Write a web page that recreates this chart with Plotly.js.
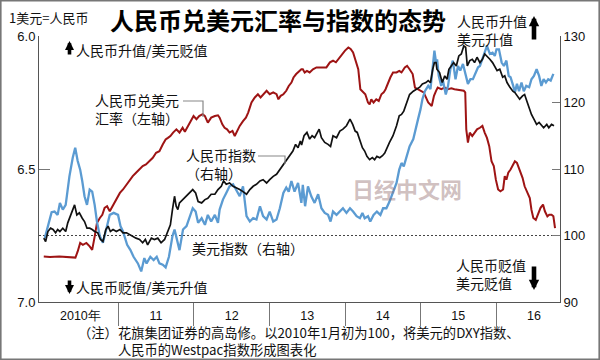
<!DOCTYPE html>
<html>
<head>
<meta charset="utf-8">
<script src="https://cdn.plot.ly/plotly-3.0.1.min.js"></script>
<style>
html,body{margin:0;padding:0;background:#fff;}
#chart{width:600px;height:360px;}
</style>
</head>
<body>
<div id="chart"></div>
<script>
// ---------------- DATA ----------------
// 美元指数 DXY (2010年1月初=100, 右轴)
const dxyDates = ['2010-01-11','2010-01-22','2010-02-13','2010-02-27','2010-03-14','2010-03-25','2010-04-08','2010-04-22','2010-05-10','2010-05-26','2010-06-07','2010-06-19','2010-07-01','2010-07-11','2010-07-22','2010-08-03','2010-08-16','2010-08-28','2010-09-09','2010-09-20','2010-10-04','2010-10-19','2010-11-05','2010-11-21','2010-12-10','2010-12-31','2011-01-12','2011-01-24','2011-02-13','2011-03-01','2011-03-16','2011-04-06','2011-04-22','2011-05-07','2011-05-18','2011-06-05','2011-06-21','2011-07-06','2011-07-19','2011-08-04','2011-08-18','2011-09-03','2011-09-20','2011-09-30','2011-10-24','2011-11-10','2011-11-27','2011-12-12','2011-12-27','2012-01-10','2012-01-22','2012-02-08','2012-02-24','2012-03-09','2012-03-25','2012-04-12','2012-04-27','2012-05-05','2012-05-21','2012-06-06','2012-06-22','2012-07-09','2012-07-25','2012-08-10','2012-08-26','2012-09-12','2012-09-28','2012-10-14','2012-10-30','2012-11-16','2012-12-01','2012-12-18','2013-01-02','2013-01-19','2013-02-04','2013-02-20','2013-03-09','2013-03-23','2013-04-04','2013-04-17','2013-05-02','2013-05-19','2013-06-04','2013-06-11','2013-06-22','2013-07-06','2013-07-22','2013-08-07','2013-08-24','2013-09-09','2013-09-25','2013-10-11','2013-10-23','2013-11-04','2013-11-21','2013-12-07','2013-12-22','2014-01-08','2014-01-25','2014-02-09','2014-02-26','2014-03-14','2014-03-26','2014-04-06','2014-04-22','2014-05-03','2014-05-19','2014-06-04','2014-06-21','2014-07-04','2014-07-20','2014-08-04','2014-08-21','2014-09-07','2014-09-20','2014-10-01','2014-10-12','2014-10-25','2014-11-09','2014-11-27','2014-12-10','2014-12-20','2015-01-01','2015-01-10','2015-01-22','2015-02-07','2015-02-18','2015-03-01','2015-03-09','2015-03-17','2015-03-22','2015-03-30','2015-04-11','2015-04-18','2015-05-03','2015-05-14','2015-05-25','2015-06-06','2015-06-19','2015-07-01','2015-07-12','2015-07-25','2015-08-07','2015-08-18','2015-08-30','2015-09-11','2015-09-25','2015-10-06','2015-10-15','2015-10-27','2015-11-07','2015-11-18','2015-12-02','2015-12-15','2015-12-26','2016-01-03','2016-01-15','2016-01-28','2016-02-08','2016-02-20','2016-03-02','2016-03-11','2016-03-24','2016-04-01','2016-04-11','2016-04-21','2016-05-03','2016-05-14','2016-05-26','2016-06-09','2016-06-20','2016-07-02','2016-07-15','2016-07-27','2016-08-07','2016-08-18','2016-08-29','2016-09-09','2016-09-21','2016-10-04'];
const dxyValues = [99.6,100.9,103.5,103.6,103.1,104.9,103.9,104.6,108.9,111.7,113.2,111.2,109.9,108.2,105.9,104.6,106.9,106.6,104.6,102.1,99.9,98.9,100.9,103.1,103.4,103.1,101.4,100.6,98.6,97.8,96.8,95.8,94.6,96.6,95.8,96.8,96.3,96.8,95.8,95.6,95.2,96.8,99.9,100.9,97.8,100.9,101.4,102.9,104.1,103.6,101.9,102.6,101.6,103.1,102.1,103.1,101.9,103.9,105.4,106.4,107.4,107.7,106.9,105.9,107.4,102.9,102.1,102.6,102.4,104.4,102.9,102.4,103.6,102.1,102.4,104.1,106.4,107.2,106.6,108.2,106.6,107.9,104.9,107.6,104.4,107.4,105.9,104.9,106.2,104.1,103.4,103.1,102.1,103.6,103.1,103.6,104.1,103.4,104.1,103.6,102.9,102.6,103.4,102.6,102.9,102.1,103.1,103.6,103.1,104.1,104.1,105.1,106.4,107.9,109.9,110.9,110.4,111.9,113.4,114.5,116.5,117.5,119.0,120.5,121.7,122.5,122.0,125.0,127.8,126.0,126.5,124.0,122.5,123.5,121.2,122.5,125.0,126.3,123.5,125.5,124.8,125.8,124.0,122.8,123.5,123.5,124.5,125.3,125.5,126.5,127.5,128.5,127.3,127.5,127.0,128.0,128.0,126.0,125.5,126.3,124.0,123.8,122.5,121.5,122.8,121.7,123.0,121.7,122.5,122.3,123.5,124.0,125.0,124.0,122.5,123.5,123.0,123.5,123.3,124.3];

// 人民币指数 Westpac (右轴)
const rmbIdxDates = ['2010-01-06','2010-01-15','2010-01-26','2010-02-08','2010-02-20','2010-03-04','2010-03-14','2010-03-25','2010-04-08','2010-04-22','2010-05-02','2010-05-14','2010-05-26','2010-06-04','2010-06-15','2010-06-27','2010-07-11','2010-07-22','2010-08-03','2010-08-16','2010-08-28','2010-09-09','2010-09-24','2010-10-07','2010-10-19','2010-11-02','2010-11-13','2010-11-24','2010-12-07','2010-12-23','2011-01-09','2011-01-24','2011-02-10','2011-02-26','2011-03-12','2011-03-28','2011-04-14','2011-04-29','2011-05-12','2011-05-23','2011-06-10','2011-06-25','2011-07-11','2011-07-27','2011-08-13','2011-08-29','2011-09-10','2011-09-20','2011-09-30','2011-10-08','2011-10-16','2011-10-24','2011-11-10','2011-11-27','2011-12-12','2011-12-27','2012-01-10','2012-01-22','2012-02-08','2012-02-24','2012-03-09','2012-03-25','2012-04-12','2012-04-27','2012-05-13','2012-05-24','2012-06-06','2012-06-22','2012-07-09','2012-07-25','2012-08-10','2012-08-26','2012-09-12','2012-09-28','2012-10-14','2012-10-30','2012-11-16','2012-12-01','2012-12-18','2013-01-02','2013-01-19','2013-02-04','2013-02-20','2013-03-09','2013-03-23','2013-04-08','2013-04-24','2013-05-07','2013-05-19','2013-05-30','2013-06-05','2013-06-17','2013-07-01','2013-07-14','2013-07-26','2013-08-07','2013-08-19','2013-08-29','2013-09-09','2013-09-25','2013-10-11','2013-10-23','2013-11-04','2013-11-21','2013-12-07','2013-12-22','2014-01-08','2014-01-25','2014-02-07','2014-02-19','2014-03-01','2014-03-14','2014-03-26','2014-04-06','2014-04-17','2014-04-30','2014-05-13','2014-05-24','2014-06-04','2014-06-18','2014-07-01','2014-07-12','2014-07-22','2014-08-04','2014-08-21','2014-09-07','2014-09-20','2014-10-01','2014-10-12','2014-10-25','2014-11-09','2014-11-27','2014-12-13','2014-12-28','2015-01-10','2015-01-27','2015-02-07','2015-02-18','2015-03-01','2015-03-09','2015-03-17','2015-03-21','2015-04-03','2015-04-16','2015-04-28','2015-05-09','2015-05-18','2015-05-30','2015-06-10','2015-06-23','2015-07-05','2015-07-17','2015-07-29','2015-08-07','2015-08-15','2015-08-27','2015-09-08','2015-09-19','2015-10-01','2015-10-15','2015-10-27','2015-11-07','2015-11-18','2015-12-02','2015-12-15','2015-12-26','2016-01-06','2016-01-19','2016-02-02','2016-02-12','2016-02-23','2016-03-08','2016-03-22','2016-04-01','2016-04-11','2016-04-24','2016-05-08','2016-05-18','2016-05-29','2016-06-09','2016-06-20','2016-07-02','2016-07-15','2016-07-27','2016-08-07','2016-08-18','2016-09-02','2016-09-12','2016-09-25','2016-10-07'];
const rmbIdxValues = [99.6,99.1,100.6,101.1,100.9,100.4,100.9,100.6,101.1,100.6,101.9,102.9,103.9,104.6,103.1,103.4,102.6,102.1,101.1,101.1,100.9,100.6,100.4,99.4,99.1,100.9,101.4,100.6,100.9,100.6,100.9,100.4,100.4,100.1,99.9,99.6,99.4,98.9,99.4,98.6,99.6,99.4,99.6,98.9,99.4,100.6,101.6,103.9,105.9,104.4,103.9,104.9,105.4,105.9,106.4,106.9,106.4,105.1,104.9,105.4,105.6,106.2,106.2,106.9,107.4,108.2,107.7,107.9,107.4,107.2,106.9,106.6,106.2,106.9,107.4,107.7,108.2,108.4,107.9,108.4,108.9,109.2,109.9,110.7,111.2,111.9,112.7,113.7,113.2,114.2,113.6,115.0,115.5,114.5,115.0,114.7,115.5,116.0,114.7,114.0,113.7,113.4,115.0,114.7,115.7,116.0,116.5,117.5,116.7,115.7,115.5,114.2,113.2,112.7,111.9,111.4,111.7,111.4,111.9,111.7,112.0,112.4,113.2,114.0,115.0,116.5,118.0,118.2,118.7,120.0,121.2,121.7,122.0,122.3,122.8,123.0,123.3,123.0,125.0,126.0,126.0,125.0,124.5,123.0,124.0,123.5,125.0,125.5,126.0,125.5,127.0,127.3,128.5,128.3,125.5,126.3,126.5,126.0,126.8,126.0,126.5,127.3,127.0,126.5,126.0,125.3,124.8,125.0,123.8,124.0,123.0,122.3,121.7,121.5,121.0,120.5,121.0,121.2,120.2,119.2,118.2,117.5,116.7,117.0,116.5,116.2,116.7,116.2,116.7,116.5];

// 人民币兑美元汇率 (1美元=人民币, 左轴)
const cnyDates = ['2010-01-06','2010-02-05','2010-03-22','2010-05-10','2010-06-08','2010-06-19','2010-07-01','2010-07-14','2010-07-31','2010-08-16','2010-08-28','2010-09-09','2010-09-20','2010-10-04','2010-10-16','2010-10-27','2010-11-08','2010-11-21','2010-12-04','2010-12-15','2010-12-26','2011-01-09','2011-01-24','2011-02-10','2011-02-26','2011-03-12','2011-03-28','2011-04-14','2011-04-29','2011-05-15','2011-05-31','2011-06-17','2011-07-03','2011-07-19','2011-08-04','2011-08-18','2011-08-29','2011-09-10','2011-09-23','2011-10-09','2011-10-24','2011-11-08','2011-11-19','2011-12-04','2011-12-20','2011-12-31','2012-01-14','2012-01-27','2012-02-13','2012-02-24','2012-03-09','2012-03-25','2012-04-12','2012-04-27','2012-05-05','2012-05-18','2012-05-29','2012-06-10','2012-06-22','2012-07-06','2012-07-17','2012-07-28','2012-08-10','2012-08-26','2012-09-09','2012-09-20','2012-10-06','2012-10-22','2012-11-06','2012-11-19','2012-12-01','2012-12-18','2013-01-02','2013-01-19','2013-02-04','2013-02-13','2013-02-24','2013-03-09','2013-03-23','2013-04-04','2013-04-17','2013-04-27','2013-05-10','2013-05-24','2013-06-04','2013-06-11','2013-06-20','2013-07-01','2013-07-14','2013-07-30','2013-08-16','2013-09-01','2013-09-17','2013-10-03','2013-10-20','2013-11-04','2013-11-18','2013-11-29','2013-12-15','2014-01-01','2014-01-17','2014-01-28','2014-02-09','2014-02-23','2014-03-06','2014-03-16','2014-03-29','2014-04-09','2014-04-22','2014-04-30','2014-05-08','2014-05-19','2014-06-01','2014-06-13','2014-06-26','2014-07-07','2014-07-16','2014-07-27','2014-08-08','2014-08-21','2014-09-07','2014-09-20','2014-10-01','2014-10-17','2014-10-28','2014-11-09','2014-11-24','2014-12-05','2014-12-20','2015-01-05','2015-01-16','2015-01-27','2015-02-07','2015-02-24','2015-03-07','2015-03-17','2015-03-25','2015-04-11','2015-04-28','2015-05-14','2015-05-30','2015-06-14','2015-07-01','2015-07-17','2015-07-29','2015-08-05','2015-08-10','2015-08-18','2015-08-27','2015-09-08','2015-09-19','2015-10-01','2015-10-15','2015-10-27','2015-11-07','2015-11-18','2015-11-29','2015-12-10','2015-12-21','2015-12-31','2016-01-11','2016-01-22','2016-02-04','2016-02-12','2016-02-20','2016-02-29','2016-03-11','2016-03-22','2016-04-01','2016-04-11','2016-04-24','2016-05-08','2016-05-18','2016-05-29','2016-06-12','2016-06-20','2016-06-29','2016-07-11','2016-07-22','2016-08-03','2016-08-15','2016-08-24','2016-09-05','2016-09-14','2016-09-25','2016-10-04','2016-10-12'];
const cnyRates = [6.829,6.831,6.829,6.833,6.833,6.810,6.778,6.785,6.778,6.791,6.804,6.754,6.703,6.684,6.672,6.646,6.640,6.659,6.640,6.628,6.609,6.590,6.577,6.558,6.540,6.527,6.514,6.502,6.489,6.483,6.471,6.458,6.439,6.433,6.408,6.389,6.383,6.376,6.363,6.351,6.363,6.345,6.360,6.338,6.320,6.301,6.313,6.301,6.294,6.301,6.326,6.307,6.301,6.298,6.307,6.332,6.345,6.351,6.363,6.357,6.376,6.357,6.338,6.320,6.307,6.288,6.250,6.231,6.219,6.231,6.219,6.206,6.219,6.212,6.219,6.238,6.225,6.219,6.206,6.188,6.175,6.156,6.143,6.131,6.125,6.125,6.137,6.131,6.137,6.125,6.118,6.118,6.118,6.118,6.099,6.093,6.099,6.087,6.074,6.055,6.043,6.049,6.062,6.099,6.125,6.200,6.212,6.219,6.250,6.257,6.238,6.250,6.238,6.244,6.219,6.212,6.200,6.175,6.156,6.137,6.137,6.131,6.137,6.118,6.112,6.125,6.143,6.194,6.200,6.206,6.212,6.231,6.250,6.263,6.225,6.206,6.194,6.200,6.194,6.200,6.197,6.200,6.203,6.206,6.206,6.212,6.351,6.401,6.363,6.376,6.363,6.351,6.345,6.338,6.363,6.383,6.414,6.471,6.489,6.540,6.577,6.584,6.577,6.527,6.540,6.514,6.502,6.483,6.471,6.477,6.502,6.533,6.565,6.584,6.609,6.653,6.684,6.691,6.672,6.646,6.634,6.659,6.678,6.672,6.672,6.678,6.722];

// axis ticks / labels
const leftTicks = [6.0, 6.5, 7.0];
const leftTickText = ['6.0', '6.5', '7.0'];
const rightTicks = [90, 100, 110, 120, 130];
const yearLabelPos = ['2010-07-02','2011-07-02','2012-07-02','2013-07-02','2014-07-02','2015-07-02','2016-07-02'];
const yearLabels = ['2010年','11','12','13','14','15','16'];
const yearStarts = ['2011-01-01','2012-01-01','2013-01-01','2014-01-01','2015-01-01','2016-01-01'];
const baseLevel = 100;

// ---------------- LAYOUT HELPERS ----------------
const M = {l: 39, r: 40, t: 36, b: 58};
const W = 600 - M.l - M.r, H = 360 - M.t - M.b;
const X = px => (px - M.l) / W;
const Y = py => (M.t + H - py) / H;
const CJK = '"Noto Sans CJK SC", "Noto Sans", sans-serif';
const NUM = '"Liberation Sans", Arial, sans-serif';

function txt(text, px, py, size, opts) {
  return Object.assign({
    text: text, x: X(px), y: Y(py), xref: 'paper', yref: 'paper',
    xanchor: 'left', yanchor: 'middle', align: 'left', showarrow: false, borderpad: 0,
    font: {family: CJK, size: size, color: '#111'}
  }, opts || {});
}
function arrow(px, py, ay, w, s) {
  return {text: '', x: X(px), y: Y(py), xref: 'paper', yref: 'paper',
    showarrow: true, ax: 0, ay: ay, arrowhead: 2, arrowsize: s, arrowwidth: w,
    arrowcolor: '#000'};
}
function path(pts) {
  return 'M' + pts.map(p => X(p[0]) + ',' + Y(p[1])).join(' L');
}

const traces = [
  {x: dxyDates, y: dxyValues, yaxis: 'y2', type: 'scatter', mode: 'lines',
   line: {color: '#5b9bd2', width: 2.3}, hoverinfo: 'skip'},
  {x: cnyDates, y: cnyRates, yaxis: 'y', type: 'scatter', mode: 'lines',
   line: {color: '#9e1414', width: 2}, hoverinfo: 'skip'},
  {x: rmbIdxDates, y: rmbIdxValues, yaxis: 'y2', type: 'scatter', mode: 'lines',
   line: {color: '#111', width: 1.7}, hoverinfo: 'skip'}
];

const layout = {
  width: 600, height: 360,
  margin: M,
  paper_bgcolor: '#fff', plot_bgcolor: '#fff',
  showlegend: false,
  font: {family: CJK, color: '#111'},
  xaxis: {
    type: 'date', range: ['2009-12-14', '2016-11-05'],
    tickmode: 'array', tickvals: yearLabelPos, ticktext: yearLabels,
    ticks: '', showgrid: false, zeroline: false, ticklabelstandoff: 2,
    showline: true, linecolor: '#555', linewidth: 1,
    tickfont: {family: NUM, size: 12.5, color: '#111'},
    minor: {tickmode: 'array', tickvals: yearStarts, ticks: 'outside',
            ticklen: 23, tickcolor: '#777', tickwidth: 1, showgrid: false}
  },
  yaxis: {
    range: [7.0, 6.0], tickmode: 'array', tickvals: leftTicks, ticktext: leftTickText,
    ticks: 'inside', ticklen: 11, tickcolor: '#777', tickwidth: 1,
    showline: true, linecolor: '#555', linewidth: 1,
    showgrid: false, zeroline: false,
    tickfont: {family: NUM, size: 13, color: '#111'}
  },
  yaxis2: {
    overlaying: 'y', side: 'right', range: [90, 130],
    tickmode: 'array', tickvals: rightTicks,
    ticks: 'inside', ticklen: 8, tickcolor: '#777', tickwidth: 1,
    showline: true, linecolor: '#555', linewidth: 1,
    showgrid: false, zeroline: false,
    tickfont: {family: NUM, size: 13, color: '#111'}
  },
  shapes: [
    {type: 'line', xref: 'paper', x0: 0, x1: 1, yref: 'y2', y0: baseLevel, y1: baseLevel,
     line: {color: '#444', width: 1, dash: '2px,2px'}, layer: 'below'},
    {type: 'path', xref: 'paper', yref: 'paper', path: path([[183,101],[203,101],[203,117]]),
     line: {color: '#888', width: 1.2}},
    {type: 'path', xref: 'paper', yref: 'paper', path: path([[258,156],[285,156],[285,164]]),
     line: {color: '#888', width: 1.2}},
    {type: 'rect', xref: 'paper', yref: 'paper', x0: X(0.8), x1: X(599.2), y0: Y(359.2), y1: Y(0.8),
     line: {color: '#777', width: 1.6}, fillcolor: 'rgba(0,0,0,0)'}
  ],
  annotations: [
    txt('人民币兑美元汇率与指数的态势', 278, 19, 24, {xanchor: 'center', font: {family: CJK, size: 24, color: '#000', weight: 'bold'}}),
    txt('1美元=人民币', 8, 17, 13),
    arrow(69.5, 41, 15, 3.6, 0.5),
    txt('人民币升值/美元贬值', 75, 50, 14),
    arrow(69.5, 294, -15, 3.6, 0.5),
    txt('人民币贬值/美元升值', 75, 287, 14),
    txt('人民币升值<br>美元升值', 456, 30, 14),
    arrow(534, 16, 25, 4.6, 0.45),
    txt('人民币贬值<br>美元贬值', 455, 273.5, 14),
    arrow(534, 290, -25, 4.6, 0.45),
    txt('人民币兑美元<br>汇率（左轴）', 94, 109.5, 14),
    txt('人民币指数<br>（右轴）', 185, 163.5, 14),
    txt('美元指数（右轴）', 191, 248, 14),
    txt('日经中文网', 407, 188, 22, {xanchor: 'center', font: {family: CJK, size: 22, color: 'rgba(150,115,115,0.45)', weight: 'bold'}}),
    txt('（注）花旗集团证券的高岛修。以2010年1月初为100，将美元的DXY指数、<br>　　　人民币的Westpac指数形成图表化', 77, 341, 13.3)
  ]
};

Plotly.newPlot('chart', traces, layout, {displayModeBar: false, staticPlot: true});
</script>
</body>
</html>
